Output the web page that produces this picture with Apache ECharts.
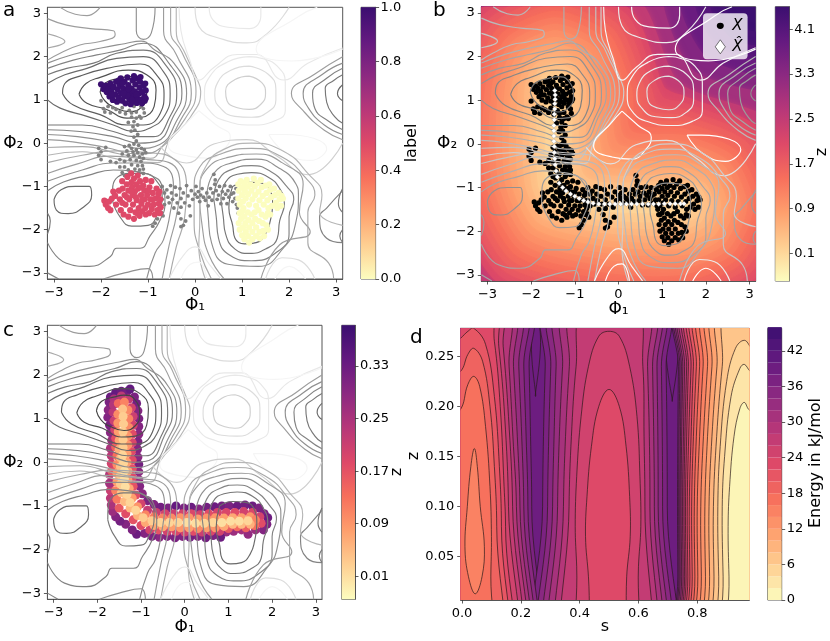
<!DOCTYPE html>
<html><head><meta charset="utf-8">
<script src="https://cdn.jsdelivr.net/npm/echarts@6/dist/echarts.min.js"></script>
<style>html,body{margin:0;padding:0;background:#fff}#c{width:830px;height:641px}</style></head>
<body><div id="c"></div>
<script>
const phiTicks=[-3,-2,-1,0,1,2,3];
const labelTicks=[0,0.2,0.4,0.6,0.8,1.0];
const zTicksB=[0.1,0.9,1.7,2.5,3.3,4.1];
const zTicksC=[0.01,0.09,0.17,0.25,0.33];
const energyTicks=[0,6,12,18,24,30,36,42];
const sTicks=[0,0.2,0.4,0.6,0.8];
const dzTicks=[0.05,0.10,0.15,0.20,0.25];
const energyLevels=[0,2,4,6,8,10,12,14,16,18,20,22,24,26,28,30,32,34,36,38,40,42,44,46];

const contours=[
{l:0,c:1,p:[[-2.02,1.18],[-1.9,1.4],[-1.6,1.5],[-1.39,1.54],[-1.15,1.45],[-1.03,1.1],[-1.12,.85],[-1.39,.73],[-1.7,.82],[-1.92,.98]]},
{l:1,c:1,p:[[-2.47,1.13],[-2.32,1.38],[-2.02,1.52],[-1.42,1.69],[-1.03,1.58],[-.83,1.23],[-.87,.85],[-1.13,.6],[-1.45,.58],[-1.88,.78],[-2.3,.92]]},
{l:2,c:1,p:[[-2.82,1.15],[-2.77,1.38],[-2.45,1.55],[-1.88,1.73],[-1.17,1.83],[-.82,1.58],[-.66,1.15],[-.74,.69],[-1.1,.42],[-1.45,.42],[-2.02,.66],[-2.59,.88]]},
{l:3,p:[[-3.14,1.38],[-2.77,1.58],[-2.3,1.73],[-1.67,1.96],[-1.1,2.0],[-.67,1.65],[-.53,1.15],[-.64,.65],[-.96,.35],[-1.31,.27],[-1.74,.42],[-2.3,.62],[-2.87,.81],[-3.14,1.0]]},
{l:3,p:[[3.14,1.35],[3.03,1.15],[3.14,.98]]},
{l:4,p:[[-3.14,1.58],[-2.73,1.73],[-2.16,1.85],[-1.67,2.08],[-1.1,2.15],[-.6,1.77],[-.39,1.15],[-.53,.62],[-.89,.15],[-1.31,.15],[-1.74,.27],[-2.4,.42],[-3.14,.42]]},
{l:4,p:[[3.14,1.58],[2.95,1.45],[2.77,1.27],[2.8,.95],[2.98,.6],[3.14,.46]]},
{l:5,p:[[-3.14,1.73],[-2.59,1.92],[-2.09,2.04],[-1.6,2.15],[-1.1,2.31],[-.53,1.81],[-.28,1.15],[-.46,.62],[-.82,.04],[-1.17,0],[-1.74,.15],[-2.45,.27],[-3.14,.31]]},
{l:5,p:[[3.14,1.73],[2.8,1.5],[2.5,1.15],[2.55,.8],[2.85,.5],[3.14,.31]]},
{l:6,p:[[-3.14,1.85],[-2.6,2.05],[-2.0,2.2],[-1.5,2.3],[-1.15,2.36],[-.85,2.15],[-.45,1.85],[-.18,1.15],[-.4,.5],[-.75,-.03],[-1.2,-.12],[-1.8,.03],[-2.5,.15],[-3.14,.2]]},
{l:6,p:[[3.14,1.85],[2.72,1.6],[2.3,1.15],[2.42,.8],[2.75,.42],[3.14,.2]]},
{l:6,p:[[-1.25,3.14],[-1.25,2.6],[-1.1,2.4],[-.93,2.55],[-.85,3.14]]},
{l:7,p:[[-.67,3.14],[-.67,2.6],[-.4,2.05],[-.08,1.15],[-.3,.55],[-.72,-.1],[-1.2,-.25],[-1.9,-.1],[-2.6,.03],[-3.14,.08]]},
{l:7,p:[[3.14,2.0],[2.55,1.6],[2.05,1.15],[2.3,.75],[2.75,.3],[3.14,.08]]},
{l:7,p:[[-3.14,2.88],[-2.73,2.73],[-2.23,2.65],[-1.74,2.6],[-1.7,2.5],[-2.02,2.35],[-2.45,2.27],[-2.87,2.08],[-3.14,1.92]]},
{l:7,p:[[-2.87,3.14],[-2.55,2.98],[-2.3,2.95],[-2.02,3.14]]},
{l:8,p:[[-3.14,2.53],[-2.77,2.35],[-3.14,2.2]]},
{l:8,p:[[-.52,3.14],[-.52,2.6],[-.28,2.1],[.02,1.2],[-.22,.55],[-.68,-.05],[-.95,-.35],[-1.6,-.25],[-2.4,-.08],[-3.14,-.1]]},
{l:9,p:[[-.4,3.14],[-.4,2.6],[-.2,2.05],[.05,1.46],[.12,1.2],[-.1,.6],[-.55,.05],[-.8,-.45],[-1.6,-.38],[-2.4,-.2],[-3.14,-.28]]},
{l:13,p:[[-.34,3.14],[-.3,2.6],[-.12,1.95],[.09,1.46],[.4,1.75],[.9,2.05],[1.3,2.05],[1.88,1.46],[2.4,1.85],[3.14,2.2]]},
{l:12,p:[[.0,3.14],[.08,2.7],[.6,2.4],[1.1,2.32],[1.55,2.55],[2.0,3.14]]},
{l:13,p:[[.3,3.14],[.38,2.85],[.7,2.68],[1.15,2.65],[1.4,2.95],[1.4,3.14]]},
{l:14,p:[[3.14,2.17],[2.06,1.9],[1.3,2.17],[2.2,2.93],[2.6,3.14]]},
{l:11,c:1,p:[[1.15,1.55],[.85,1.47],[.65,1.2],[.68,.98],[.9,.82],[1.15,.78],[1.4,.9],[1.5,1.15],[1.42,1.4]]},
{l:12,c:1,p:[[1.15,1.78],[.75,1.68],[.48,1.4],[.42,1.1],[.55,.8],[.85,.62],[1.2,.6],[1.55,.72],[1.72,1.0],[1.72,1.25],[1.55,1.6]]},
{l:13,c:1,p:[[1.15,2.0],[.7,1.88],[.32,1.55],[.2,1.1],[.35,.7],[.7,.5],[1.2,.42],[1.7,.52],[1.92,.75],[1.92,1.4],[1.75,1.78],[1.45,1.95]]},
{l:14,c:1,p:[[.08,.75],[-.15,.5],[-.57,-.05],[-.15,-.3],[.3,-.35],[.65,-.1],[.75,.15],[.45,.42]]},
{l:14,c:1,p:[[1.57,.2],[1.9,.2],[2.8,-.13],[2.45,-.4],[1.9,-.2]]},
{l:11,p:[[-.74,-.08],[-.18,-.46],[.4,-.02],[1.1,.08],[1.74,-.3],[2.4,-.73],[3.14,0]]},
{l:3,c:1,p:[[-3.0,-1.3],[-2.85,-1.08],[-2.55,-1.0],[-2.25,-1.0],[-2.2,-1.2],[-2.4,-1.5],[-2.7,-1.63],[-2.95,-1.55]]},
{l:4,c:1,p:[[-1.76,-1.32],[-1.6,-1.7],[-1.35,-1.92],[-1.0,-1.9],[-.8,-1.65],[-.7,-1.25],[-.8,-.9],[-1.1,-.7],[-1.4,-.7],[-1.75,-1.0]]},
{l:5,p:[[-3.14,-2.3],[-2.75,-2.77],[-2.25,-2.85],[-1.8,-2.62],[-1.67,-2.43],[-1.17,-2.43],[-.96,-2.15],[-.74,-1.77],[-.64,-1.38],[-.71,-.96],[-.89,-.77],[-1.31,-.65],[-1.74,-.62],[-2.3,-.75],[-2.8,-.9],[-3.14,-1.1]]},
{l:5,p:[[3.14,-1.1],[2.8,-1.5],[2.65,-1.7],[2.8,-2.2],[3.14,-2.3]]},
{l:6,p:[[-3.14,-.88],[-2.4,-.62],[-1.74,-.46],[-1.17,-.46],[-.67,-.54],[-.46,-1.0],[-.53,-1.62],[-.67,-2.23],[-.85,-2.54],[-1.03,-3.14]]},
{l:6,p:[[-1.95,-3.14],[-1.5,-3.0],[-1.0,-2.9],[-.9,-3.14]]},
{l:7,p:[[-3.14,-.7],[-2.5,-.48],[-1.8,-.3],[-1.0,-.38],[-.55,-.45],[-.32,-1.0],[-.4,-1.7],[-.55,-2.35],[-.7,-3.14]]},
{l:8,p:[[-3.14,-.45],[-2.4,-.28],[-1.7,-.18],[-1.0,-.22],[-.5,-.33],[-.18,-1.0],[-.22,-1.7],[-.4,-2.4],[-.55,-3.14]]},
{l:3,c:1,p:[[.8,-1.0],[1.1,-.9],[1.4,-.92],[1.6,-1.1],[1.65,-1.4],[1.6,-1.8],[1.5,-2.1],[1.3,-2.3],[1.05,-2.33],[.85,-2.2],[.8,-1.9],[.72,-1.5]]},
{l:4,c:1,p:[[.55,-1.3],[.65,-.9],[.9,-.72],[1.2,-.68],[1.55,-.78],[1.8,-1.05],[1.9,-1.4],[1.8,-1.8],[1.75,-2.2],[1.5,-2.45],[1.15,-2.55],[.85,-2.45],[.65,-2.1],[.6,-1.7]]},
{l:5,c:1,p:[[.4,-1.3],[.5,-.85],[.8,-.6],[1.2,-.52],[1.6,-.65],[1.95,-1.0],[2.1,-1.3],[2.0,-1.7],[2.0,-2.1],[1.7,-2.55],[1.2,-2.72],[.75,-2.6],[.5,-2.2],[.45,-1.7]]},
{l:6,c:1,p:[[.25,-1.2],[.4,-.7],[.8,-.45],[1.3,-.37],[1.75,-.55],[2.15,-.95],[2.2,-1.2],[2.13,-1.9],[1.9,-2.4],[1.35,-2.85],[.7,-2.8],[.35,-2.3],[.28,-1.7]]},
{l:7,p:[[.62,-3.14],[.3,-2.6],[.15,-1.9],[.1,-1.1],[.25,-.6],[.7,-.33],[1.3,-.25],[1.85,-.45],[2.3,-.95],[2.22,-1.6],[2.45,-2.05],[1.8,-2.35],[1.4,-3.14]]},
{l:8,p:[[.35,-3.14],[.1,-2.5],[-.02,-1.8],[-.02,-1.1],[.1,-.55],[.55,-.25],[1.2,-.12],[1.85,-.32],[2.35,-.8],[2.55,-1.2],[2.4,-1.6],[2.4,-2.3],[2.84,-2.77],[2.95,-3.14]]},
{l:9,p:[[.22,-3.14],[.08,-2.4],[.1,-1.8],[.1,-1.1],[.25,-.5],[.6,-.15],[1.2,0],[1.9,-.2],[2.4,-.7],[2.7,-1.2],[2.65,-1.6],[3.14,-1.9]]},
{l:13,p:[[-.55,-3.14],[-.25,-2.6],[0,-2.4],[.3,-2.8],[.55,-3.14]]},
{l:14,p:[[-.3,-3.14],[-.1,-2.8],[.08,-2.75],[.25,-3.14]]},
{l:12,p:[[1.5,-3.14],[1.85,-2.65],[2.2,-2.7],[2.55,-3.14]]},
{l:14,p:[[1.7,-3.14],[2,-2.85],[2.35,-3.14]]},
{l:4,p:[[3.14,-1.05],[3.05,-1.4],[3.14,-1.6]]},
{l:4,p:[[3.14,-2.0],[3.08,-2.15],[3.14,-2.3]]},
{l:4,p:[[-3.14,-1.62],[-3.08,-1.8],[-3.14,-2.1]]},
{l:5,p:[[-3.14,-3.0],[-2.9,-3.14]]}
];

const fieldLevels=[4.35,4.1,3.8,3.4,2.95,2.5,2.1,1.95,1.82,1.69,1.56,1.43,1.3,1.18,1.05,.93,.8,.68,.55,.42,.3,.15];
const fieldPolys=[
[[-5,-5],[-5,5],[2.44,5],[2.44,3.14],[2.75,2.72],[3.14,2.57],[5,2.57],[5,-5]],
[[-5,-5],[-5,5],[2.1,5],[2.1,3.14],[2.55,2.45],[3.14,2.25],[5,2.25],[5,-5]],
[[-5,-5],[-5,5],[1.76,5],[1.76,3.14],[2.25,2.25],[3.14,1.92],[5,1.92],[5,-5]],
[[-5,-5],[-5,5],[1.41,5],[1.41,3.14],[2,2],[3.14,1.58],[5,1.58],[5,-5]],
[[-5,-5],[-5,5],[1.04,5],[1.04,3.14],[1.7,1.7],[3.14,1.23],[5,1.23],[5,-5]],
[[-4.25,1.3],[-3.41,3.26],[-1.45,4.1],[.51,3.26],[1.4,1.4],[3.46,.56],[4.3,-1.4],[3.46,-3.36],[1.5,-4.2],[-.3,-4.15],[-2.98,-3.39],[-4.25,-.9]],
[[-3.95,1.3],[-3.2,3.05],[-1.45,3.8],[.3,3.05],[1.05,1.3],[1.2,1.2],[1.5,1.1],[3.25,.35],[4,-1.4],[3.25,-3.15],[1.5,-3.9],[-.3,-3.85],[-2.8,-3.15],[-3.95,-.9]],
[[-3.8,1.3],[-3.1,2.95],[-1.45,3.65],[.2,2.95],[.9,1.3],[1.05,1.05],[1.5,.95],[3.15,.25],[3.85,-1.4],[3.15,-3.05],[1.5,-3.75],[-.3,-3.7],[-2.71,-3.03],[-3.8,-.9]],
[[-3.65,1.3],[-2.99,2.84],[-1.45,3.5],[.09,2.84],[.75,1.3],[.9,.9],[1.5,.8],[3.04,.14],[3.7,-1.4],[3.04,-2.94],[1.5,-3.6],[-.3,-3.55],[-2.62,-2.91],[-3.65,-.9]],
[[-3.5,1.3],[-2.89,2.74],[-1.45,3.35],[-.02,2.74],[.6,1.3],[.75,.75],[1.5,.65],[2.94,.04],[3.55,-1.4],[2.94,-2.84],[1.5,-3.45],[-.3,-3.4],[-2.53,-2.79],[-3.5,-.9]],
[[-3.35,1.3],[-2.78,2.63],[-1.45,3.2],[-.12,2.63],[.45,1.3],[.6,.6],[1.5,.5],[2.83,-.07],[3.4,-1.4],[2.83,-2.73],[1.5,-3.3],[-.3,-3.25],[-2.44,-2.67],[-3.35,-.9]],
[[-3.2,1.3],[-2.68,2.53],[-1.45,3.05],[-.22,2.53],[.3,1.3],[.45,.45],[1.5,.35],[2.73,-.18],[3.25,-1.4],[2.73,-2.63],[1.5,-3.15],[-.3,-3.1],[-2.35,-2.55],[-3.2,-.9]],
[[-3.05,1.3],[-2.57,2.42],[-1.45,2.9],[-.33,2.42],[.15,1.3],[.3,.3],[1.5,.2],[2.62,-.28],[3.1,-1.4],[2.62,-2.52],[1.5,-3],[-.3,-2.95],[-2.26,-2.43],[-3.05,-.9]],
[[-2.9,1.3],[-2.47,2.32],[-1.45,2.75],[-.44,2.32],[0,1.3],[.15,.15],[1.5,.05],[2.52,-.39],[2.95,-1.4],[2.52,-2.42],[1.5,-2.85],[-.3,-2.8],[-2.17,-2.31],[-2.9,-.9]],
[[-2.75,1.3],[-2.36,2.21],[-1.45,2.6],[-.54,2.21],[-.15,1.3],[0,0],[1.5,-.1],[2.41,-.49],[2.8,-1.4],[2.41,-2.31],[1.5,-2.7],[-.3,-2.65],[-2.08,-2.19],[-2.75,-.9]],
[[-2.6,1.3],[-2.26,2.11],[-1.45,2.45],[-.65,2.11],[-.3,1.3],[-.15,-.15],[1.5,-.25],[2.31,-.6],[2.65,-1.4],[2.31,-2.21],[1.5,-2.55],[-.3,-2.5],[-1.99,-2.07],[-2.6,-.9]],
[[-2.45,1.3],[-2.15,2],[-1.45,2.3],[-.75,2],[-.45,1.3],[-.3,-.3],[1.5,-.4],[2.2,-.7],[2.5,-1.4],[2.2,-2.1],[1.5,-2.4],[-.3,-2.35],[-1.9,-1.95],[-2.45,-.9]],
[[-2.3,1.3],[-2.05,1.9],[-1.45,2.15],[-.86,1.9],[-.6,1.3],[-.45,-.45],[1.5,-.55],[2.1,-.8],[2.35,-1.4],[2.1,-2],[1.5,-2.25],[-.3,-2.2],[-1.81,-1.83],[-2.3,-.9]],
[[-2.15,1.3],[-1.94,1.79],[-1.45,2],[-.96,1.79],[-.75,1.3],[-.6,-.6],[1.5,-.7],[1.99,-.91],[2.2,-1.4],[1.99,-1.89],[1.5,-2.1],[-.3,-2.05],[-1.72,-1.71],[-2.15,-.9]],
[[-2,1.3],[-1.84,1.69],[-1.45,1.85],[-1.07,1.69],[-.9,1.3],[-.75,-.75],[1.5,-.85],[1.89,-1.02],[2.05,-1.4],[1.89,-1.79],[1.5,-1.95],[-.3,-1.9],[-1.63,-1.59],[-2,-.9]],
[[-1.85,1.3],[-1.73,1.58],[-1.45,1.7],[-1.17,1.58],[-1.05,1.3],[-.9,-.9],[1.5,-1],[1.78,-1.12],[1.9,-1.4],[1.78,-1.68],[1.5,-1.8],[-.3,-1.75],[-1.54,-1.47],[-1.85,-.9]],
[[-1.65,1.3],[-1.59,1.44],[-1.45,1.5],[-1.31,1.44],[-1.25,1.3],[-1.1,-1.1],[1.5,-1.2],[1.64,-1.26],[1.7,-1.4],[1.64,-1.54],[1.5,-1.6],[-.3,-1.55],[-1.42,-1.31],[-1.65,-.9]]
];

const darkPts=[[-2.0,1.36],[-1.95,1.25],[-1.9,1.33],[-1.88,1.18],[-1.84,1.27],[-1.82,1.08],[-1.8,1.38],[-1.78,1.2],[-1.75,1.0],[-1.73,1.3],[-1.7,1.12],[-1.68,1.42],[-1.66,.96],[-1.65,1.24],[-1.62,1.05],[-1.6,1.34],[-1.58,1.5],[-1.58,1.16],[-1.55,.98],[-1.53,1.27],[-1.5,1.42],[-1.5,1.08],[-1.48,.92],[-1.46,1.2],[-1.44,1.52],[-1.42,1.34],[-1.4,1.02],[-1.38,1.14],[-1.37,.9],[-1.35,1.26],[-1.33,1.45],[-1.32,.96],[-1.3,1.08],[-1.28,1.2],[-1.27,1.36],[-1.25,1.5],[-1.24,.93],[-1.22,1.02],[-1.2,1.14],[-1.18,1.28],[-1.17,1.42],[-1.15,1.0],[-1.13,.92],[-1.12,1.18],[-1.1,1.33],[-1.08,1.08],[-1.07,.98],[-1.05,1.22],[-1.05,1.03],[-1.16,1.53],[-1.06,1.38],[-1.3,1.55],[-1.62,1.45],[-1.77,1.12],[-1.55,1.38],[-1.44,1.1],[-1.34,1.0],[-1.42,1.25],[-1.25,1.12],[-1.52,1.15]];
const redPts=[[-1.93,-1.33],[-1.9,-1.42],[-1.85,-1.5],[-1.83,-1.35],[-1.8,-1.55],[-1.77,-1.28],[-1.74,-1.12],[-1.7,-1.22],[-1.68,-1.42],[-1.62,-1.1],[-1.6,-1.3],[-1.58,-1.55],[-1.55,-.88],[-1.54,-1.05],[-1.52,-1.65],[-1.5,-1.2],[-1.48,-1.42],[-1.45,-.95],[-1.44,-.78],[-1.42,-1.1],[-1.42,-1.7],[-1.4,-1.3],[-1.38,-1.55],[-1.36,-.7],[-1.35,-.9],[-1.34,-1.02],[-1.33,-1.2],[-1.32,-1.42],[-1.3,-1.75],[-1.3,-.82],[-1.28,-1.12],[-1.27,-1.6],[-1.25,-.95],[-1.24,-1.32],[-1.22,-.75],[-1.21,-1.05],[-1.2,-1.5],[-1.18,-1.68],[-1.17,-.88],[-1.15,-1.2],[-1.14,-1.4],[-1.12,-1.58],[-1.1,-.98],[-1.08,-1.1],[-1.07,-1.3],[-1.06,-1.5],[-1.05,-.85],[-1.02,-1.2],[-1.0,-1.42],[-.98,-1.62],[-.97,-1.02],[-.95,-1.3],[-.93,-.88],[-.92,-1.52],[-.9,-1.15],[-.88,-1.42],[-.86,-1.65],[-.84,-1.28],[-.82,-1.05],[-.8,-1.55],[-.78,-1.18],[-.77,-1.4],[-.75,-1.62],[-.74,-1.3],[-.73,-1.48],[-.76,-1.12],[-1.26,-1.25],[-1.16,-1.02],[-1.35,-1.12],[-1.45,-1.25],[-1.05,-1.65],[-1.22,-1.63],[-.9,-1.3],[-1.0,-1.1],[-1.55,-1.38],[-1.12,-1.3]];
const creamPts=[[.92,-.95],[.93,-1.1],[.92,-1.28],[.95,-1.42],[.97,-.88],[1.0,-1.02],[1.0,-1.2],[1.02,-1.35],[1.03,-1.5],[1.05,-.92],[1.06,-1.1],[1.08,-1.28],[1.1,-.85],[1.12,-1.0],[1.13,-1.18],[1.15,-1.42],[1.18,-.95],[1.2,-1.1],[1.22,-1.3],[1.25,-.82],[1.27,-1.0],[1.28,-1.2],[1.3,-1.45],[1.33,-.92],[1.35,-1.12],[1.37,-1.32],[1.4,-.85],[1.42,-1.02],[1.44,-1.22],[1.46,-1.42],[1.5,-.98],[1.52,-1.15],[1.54,-1.32],[1.56,-1.5],[1.58,-.95],[1.6,-1.08],[1.62,-1.25],[1.64,-1.45],[1.68,-1.05],[1.7,-1.2],[1.72,-1.38],[1.75,-1.5],[1.78,-1.15],[1.8,-1.3],[1.84,-1.22],[1.87,-1.28],[1.83,-1.45],[.95,-1.62],[.93,-1.85],[.95,-2.0],[.98,-1.75],[1.0,-1.58],[1.02,-1.95],[1.0,-2.13],[1.05,-1.7],[1.07,-1.85],[1.08,-2.05],[1.05,-2.22],[1.12,-1.6],[1.14,-1.78],[1.15,-1.95],[1.13,-2.15],[1.15,-2.3],[1.2,-1.65],[1.22,-1.85],[1.22,-2.05],[1.22,-2.22],[1.27,-1.6],[1.28,-1.75],[1.3,-1.95],[1.3,-2.15],[1.35,-1.55],[1.36,-1.8],[1.37,-2.05],[1.38,-2.2],[1.42,-1.65],[1.44,-1.85],[1.45,-2.03],[1.47,-2.15],[1.5,-1.7],[1.52,-1.9],[1.55,-1.62],[1.55,-2.0],[1.6,-1.65]];
const grayPts=[[-2.0,.98],[-1.95,.8],[-1.92,.72],[-1.85,.85],[-1.8,.7],[-1.75,.82],[-1.68,.78],[-1.6,.72],[-1.55,.82],[-1.48,.68],[-1.4,.76],[-1.35,.7],[-1.3,.85],[-1.25,.72],[-1.18,.62],[-1.1,.8],[-1.08,.7],[-1.15,.85],[-1.25,.58],[-1.3,.5],[-1.32,.38],[-1.35,.6],[-1.42,.48],[-1.22,.42],[-1.28,.3],[-1.15,.58],[-1.36,.28],[-1.22,.2],[-1.3,.14],[-1.25,.05],[-1.3,-.02],[-1.4,-.05],[-1.5,-.08],[-1.2,-.05],[-1.35,-.12],[-1.25,-.15],[-1.14,-.12],[-1.08,-.15],[-1.45,-.18],[-1.32,-.2],[-1.22,-.22],[-1.12,-.25],[-1.05,-.22],[-1.55,-.25],[-1.42,-.28],[-1.3,-.28],[-1.18,-.32],[-1.1,-.35],[-2.05,-.12],[-2.0,-.2],[-2.05,-.28],[-2.0,-.38],[-1.9,-.1],[-1.8,-.42],[-1.6,-.38],[-1.68,-.45],[-1.5,-.42],[-1.38,-.38],[-1.25,-.4],[-1.15,-.42],[-1.6,-.55],[-1.5,-.55],[-1.35,-.5],[-1.22,-.52],[-1.12,-.52],[-1.55,-.68],[-1.42,-.62],[-1.28,-.6],[-1.18,-.62],[-1.1,-.6],[-1.5,-.75],[-1.2,-.7],[-1.1,-.7],[-.7,-1.0],[-.65,-1.15],[-.7,-1.3],[-.65,-1.42],[-.6,-1.08],[-.58,-1.25],[-.55,-1.38],[-.52,-.98],[-.5,-1.15],[-.48,-1.3],[-.45,-1.5],[-.42,-1.02],[-.4,-1.2],[-.38,-1.38],[-.35,-1.62],[-.32,-1.05],[-.3,-1.28],[-.3,-1.48],[-.3,-1.75],[-.25,-1.15],[-.22,-1.38],[-.25,-1.9],[-.3,-1.93],[-.2,-1.8],[-.18,-.98],[-.15,-1.22],[-.12,-1.45],[-.1,-1.68],[-.08,-1.1],[-.05,-1.3],[.0,-1.18],[.02,-1.0],[.05,-1.25],[.07,-1.12],[.1,-1.35],[.12,-1.2],[.15,-1.05],[.18,-1.25],[.22,-1.32],[.25,-1.15],[.28,-1.45],[.3,-1.25],[.33,-1.05],[.36,-1.32],[.38,-1.15],[.4,-.72],[.42,-.95],[.43,-.85],[.45,-1.1],[.47,-1.3],[.5,-1.2],[.52,-1.0],[.55,-1.4],[.58,-1.12],[.6,-1.28],[.63,-.98],[.65,-1.18],[.68,-1.4],[.7,-1.1],[.72,-1.25],[.75,-1.0],[.77,-1.18],[.8,-1.35],[.82,-1.15],[.85,-1.28],[.87,-1.05],[.9,-1.5],[.88,-1.42],[.92,-1.62],[-.85,-1.85],[-.9,-1.92],[-.8,-1.75],[-.72,-1.6],[-.68,-1.68]];
const hatPts=[[-1.46,1.22],[-1.45,1.12],[-1.45,1.02],[-1.46,.92],[-1.46,.8],[-1.47,.68],[-1.47,.55],[-1.48,.42],[-1.48,.3],[-1.48,.18],[-1.48,.06],[-1.47,-.06],[-1.47,-.2],[-1.46,-.34],[-1.45,-.48],[-1.43,-.62],[-1.4,-.76],[-1.36,-.9],[-1.28,-1.0],[-1.2,-1.08],[-1.1,-1.15],[-1.0,-1.2],[-.9,-1.25],[-.8,-1.3],[-.7,-1.33],[-.58,-1.36],[-.45,-1.38],[-.32,-1.38],[-.2,-1.38],[-.08,-1.38],[.05,-1.38],[.18,-1.38],[.3,-1.38],[.42,-1.38],[.55,-1.38],[.68,-1.38],[.8,-1.38],[.92,-1.38],[1.05,-1.37],[1.18,-1.37],[1.3,-1.37],[1.42,-1.37],[1.5,-1.37]];

const tubeOuter=[[-1.7,1.5,.33],[-1.58,1.6,.34],[-1.45,1.63,.33],[-1.32,1.62,.32],[-1.25,1.68,.34],[-1.15,1.5,.31],[-1.1,1.35,.32],[-1.07,1.18,.3],[-1.05,1.0,.31],[-1.05,.82,.3],[-1.05,.65,.29],[-1.07,.47,.31],[-1.08,.3,.3],[-1.07,.12,.29],[-1.05,-.05,.32],[-1.05,-.22,.29],[-1.05,-.4,.28],[-1.03,-.55,.3],[-.97,-.72,.29],[-.85,-.88,.31],[-.7,-.97,.3],[-.55,-1.03,.32],[-.38,-1.05,.31],[-.2,-1.0,.34],[-.02,-1.05,.31],[.15,-1.03,.33],[.32,-1.07,.3],[.5,-1.03,.32],[.68,-1.02,.33],[.85,-1.0,.32],[1.02,-1.0,.31],[1.2,-1.0,.33],[1.38,-.98,.32],[1.55,-1.0,.33],[1.7,-1.05,.31],[1.82,-1.18,.31],[1.9,-1.27,.33],[1.88,-1.42,.31],[1.8,-1.55,.3],[1.62,-1.55,.27],[1.45,-1.65,.28],[1.3,-1.55,.26],[1.12,-1.58,.27],[.95,-1.6,.27],[.82,-1.72,.33],[.65,-1.68,.31],[.48,-1.73,.32],[.3,-1.7,.3],[.12,-1.72,.32],[-.05,-1.7,.3],[-.22,-1.73,.31],[-.4,-1.7,.3],[-.58,-1.72,.29],[-.75,-1.7,.31],[-.92,-1.63,.3],[-1.1,-1.65,.33],[-1.2,-1.55,.31],[-1.35,-1.42,.3],[-1.48,-1.35,.32],[-1.58,-1.25,.3],[-1.65,-1.13,.27],[-1.68,-.98,.25],[-1.7,-.82,.23],[-1.7,-.65,.21],[-1.68,-.47,.18],[-1.72,-.48,.26],[-1.72,-.28,.24],[-1.67,-.2,.16],[-1.68,-.03,.2],[-1.68,.15,.23],[-1.7,.32,.25],[-1.67,.5,.27],[-1.7,.68,.29],[-1.72,.85,.31],[-1.76,1.03,.3],[-1.75,1.2,.29],[-1.73,1.38,.31]];
const tubeMid=[[-1.62,1.45,.25],[-1.45,1.52,.23],[-1.28,1.45,.22],[-1.22,1.25,.2],[-1.18,1.05,.21],[-1.18,.85,.2],[-1.2,.65,.18],[-1.2,.45,.19],[-1.22,.25,.18],[-1.2,.05,.18],[-1.2,-.15,.17],[-1.2,-.35,.18],[-1.18,-.55,.17],[-1.12,-.75,.18],[-1.0,-.95,.2],[-.85,-1.1,.22],[-.65,-1.15,.21],[-.45,-1.18,.2],[-.25,-1.18,.21],[-.05,-1.18,.2],[.15,-1.18,.19],[.35,-1.2,.2],[.55,-1.18,.18],[.75,-1.15,.2],[.95,-1.15,.19],[1.15,-1.15,.18],[1.35,-1.13,.2],[1.55,-1.15,.19],[1.72,-1.25,.2],[1.75,-1.4,.18],[1.6,-1.45,.13],[1.4,-1.5,.15],[1.2,-1.48,.14],[1.0,-1.52,.16],[.8,-1.58,.2],[.6,-1.58,.19],[.4,-1.6,.21],[.2,-1.58,.18],[0,-1.6,.2],[-.2,-1.58,.19],[-.4,-1.58,.2],[-.6,-1.55,.17],[-.8,-1.55,.2],[-1.0,-1.45,.18],[-1.18,-1.32,.17],[-1.35,-1.18,.18],[-1.5,-1.05,.16],[-1.55,-.85,.12],[-1.58,-.65,.11],[-1.55,-.45,.08],[-1.55,-.25,.08],[-1.55,-.05,.1],[-1.55,.15,.13],[-1.58,.35,.15],[-1.58,.55,.18],[-1.6,.75,.2],[-1.62,.95,.21],[-1.64,1.15,.23],[-1.63,1.32,.24]];
const tubeInner=[[-1.52,1.35,.14],[-1.38,1.38,.11],[-1.3,1.2,.1],[-1.28,1.0,.11],[-1.28,.8,.1],[-1.3,.6,.09],[-1.3,.4,.09],[-1.32,.2,.08],[-1.32,0,.08],[-1.3,-.2,.07],[-1.3,-.4,.08],[-1.27,-.6,.07],[-1.2,-.82,.08],[-1.08,-1.02,.09],[-.9,-1.2,.11],[-.7,-1.25,.12],[-.5,-1.28,.11],[-.3,-1.28,.1],[-.1,-1.27,.09],[.1,-1.27,.09],[.3,-1.3,.08],[.5,-1.28,.09],[.7,-1.27,.09],[.9,-1.28,.08],[1.1,-1.27,.07],[1.3,-1.27,.08],[1.5,-1.25,.09],[1.62,-1.32,.11],[1.5,-1.42,.06],[1.3,-1.42,.05],[1.1,-1.42,.05],[.9,-1.47,.07],[.7,-1.5,.09],[.5,-1.5,.08],[.3,-1.52,.1],[.1,-1.5,.08],[-.1,-1.5,.09],[-.3,-1.48,.08],[-.5,-1.48,.07],[-.7,-1.45,.07],[-.9,-1.38,.07],[-1.08,-1.22,.06],[-1.25,-1.05,.05],[-1.38,-.9,.05],[-1.45,-.7,.04],[-1.47,-.5,.03],[-1.47,-.3,.03],[-1.47,-.1,.04],[-1.47,.1,.05],[-1.5,.3,.06],[-1.5,.5,.07],[-1.52,.7,.08],[-1.53,.9,.09],[-1.53,1.1,.1]];
const tubeCore=[[-1.42,1.22,.04],[-1.41,1.05,.03],[-1.4,.88,.03],[-1.41,.7,.03],[-1.41,.52,.03],[-1.41,.34,.03],[-1.42,.16,.02],[-1.4,-.02,.02],[-1.38,-.2,.01],[-1.38,-.38,.01],[-1.36,-.56,.01],[-1.32,-.74,.02],[-1.25,-.92,.02],[-1.12,-1.1,.02],[-.95,-1.27,.03],[-.75,-1.34,.03],[-.55,-1.38,.02],[-.35,-1.38,.02],[-.15,-1.38,.02],[.05,-1.38,.01],[.25,-1.4,.01],[.45,-1.4,.02],[.65,-1.38,.02],[.85,-1.38,.01],[1.05,-1.35,.01],[1.25,-1.35,.01],[1.45,-1.34,.02]];

const energyContours=[
[44,[[-.1,-.1],[-.1,.3],[.245,.3],[.25,.272],[.258,.3],[.71,.3],[.715,.27],[.72,.3],[1.2,.3],[1.2,-.1]]],
[42,[[-.1,-.1],[-.1,.3],[.24,.3],[.25,.25],[.27,.3],[.705,.3],[.715,.243],[.725,.3],[1.2,.3],[1.2,-.1]]],
[40,[[-.1,-.1],[-.1,.3],[.235,.3],[.25,.21],[.275,.3],[.7,.3],[.715,.205],[.73,.3],[1.2,.3],[1.2,-.1],[.725,-.1],[.715,.028],[.705,-.1],[.262,-.1],[.25,.022],[.24,-.1]]],
[38,[[-.2,-.1],[.233,-.1],[.237,.1],[.233,.17],[.228,.24],[.222,.3],[-.2,.3]]],
[38,[[.27,-.1],[.274,.1],[.277,.17],[.283,.24],[.29,.3],[.69,.3],[.694,.24],[.697,.17],[.698,.1],[.696,-.1]]],
[38,[[.735,-.1],[.734,.03],[.733,.1],[.734,.17],[.736,.24],[.738,.3],[1.2,.3],[1.2,-.1]]],
[36,[[-.2,-.1],[.222,-.1],[.224,.1],[.218,.17],[.21,.24],[.205,.3],[-.2,.3]]],
[36,[[.288,-.1],[.291,.1],[.295,.17],[.302,.24],[.31,.3],[.675,.3],[.678,.24],[.681,.17],[.682,.1],[.68,-.1]]],
[36,[[.74,-.1],[.738,.03],[.737,.1],[.738,.17],[.741,.24],[.743,.3],[1.2,.3],[1.2,-.1]]],
[34,[[-.2,-.1],[.21,-.1],[.21,.1],[.203,.17],[.193,.24],[.185,.3],[-.2,.3]]],
[34,[[.305,-.1],[.308,.1],[.313,.17],[.32,.24],[.33,.3],[.66,.3],[.663,.24],[.666,.17],[.667,.1],[.665,-.1]]],
[34,[[.745,-.1],[.742,.03],[.741,.1],[.743,.17],[.746,.24],[.749,.3],[1.2,.3],[1.2,-.1]]],
[32,[[-.2,-.1],[.198,-.1],[.197,.1],[.188,.17],[.175,.24],[.165,.3],[-.2,.3]]],
[32,[[.322,-.1],[.325,.1],[.331,.17],[.342,.24],[.355,.3],[.645,.3],[.648,.24],[.652,.17],[.654,.1],[.65,-.1]]],
[32,[[.75,-.1],[.747,.03],[.745,.1],[.747,.17],[.751,.24],[.755,.3],[1.2,.3],[1.2,-.1]]],
[30,[[-.2,-.1],[.186,-.1],[.185,.1],[.173,.17],[.16,.24],[.145,.3],[-.2,.3]]],
[30,[[.342,-.1],[.345,.1],[.352,.17],[.365,.24],[.38,.3],[.625,.3],[.631,.24],[.637,.17],[.639,.1],[.635,-.1]]],
[30,[[.755,-.1],[.752,.03],[.75,.1],[.753,.17],[.757,.24],[.762,.3],[1.2,.3],[1.2,-.1]]],
[28,[[-.2,-.1],[.173,-.1],[.172,.1],[.158,.19],[.14,.26],[.125,.3],[-.2,.3]]],
[28,[[.36,-.1],[.364,.1],[.372,.17],[.388,.24],[.415,.3],[.59,.3],[.615,.24],[.619,.17],[.622,.1],[.618,-.1]]],
[28,[[.76,-.1],[.757,.03],[.755,.1],[.758,.17],[.764,.24],[.77,.3],[1.2,.3],[1.2,-.1]]],
[26,[[-.2,-.1],[.16,-.1],[.158,.1],[.145,.19],[.125,.26],[.105,.3],[-.2,.3]]],
[26,[[.405,-.1],[.39,.04],[.385,.08],[.39,.13],[.405,.19],[.43,.24],[.465,.27],[.5,.275],[.535,.27],[.57,.24],[.595,.19],[.605,.13],[.608,.08],[.6,.04],[.585,-.1]]],
[26,[[.766,-.1],[.762,.03],[.76,.1],[.764,.17],[.77,.24],[.778,.3],[1.2,.3],[1.2,-.1]]],
[24,[[-.2,-.1],[.147,-.1],[.148,.08],[.143,.12],[.13,.2],[.11,.265],[.085,.3],[-.2,.3]]],
[24,[[.455,-.1],[.43,.03],[.42,.07],[.425,.11],[.44,.16],[.465,.2],[.5,.217],[.535,.2],[.558,.16],[.57,.11],[.572,.07],[.56,.03],[.545,-.1]]],
[24,[[.772,-.1],[.768,.03],[.766,.1],[.771,.17],[.779,.24],[.787,.3],[1.2,.3],[1.2,-.1]]],
[22,[[-.2,-.1],[-.2,.22],[-.005,.268],[.02,.275],[.04,.278],[.08,.262],[.11,.21],[.127,.14],[.134,.08],[.132,-.1]]],
[22,[[.78,-.1],[.775,.03],[.773,.1],[.779,.17],[.787,.24],[.797,.3],[1.2,.3],[1.2,-.1]]],
[20,[[-.2,-.1],[-.2,.18],[-.005,.235],[.02,.252],[.04,.258],[.07,.245],[.095,.2],[.11,.14],[.118,.08],[.115,-.1]]],
[20,[[.788,-.1],[.783,.03],[.781,.1],[.787,.17],[.797,.24],[.808,.3],[1.2,.3],[1.2,-.1]]],
[18,[[-.2,-.1],[-.2,.14],[-.01,.195],[.02,.222],[.04,.23],[.06,.22],[.08,.18],[.095,.12],[.1,.07],[.098,.03],[.095,-.1]]],
[18,[[.797,-.1],[.792,.03],[.79,.1],[.797,.17],[.808,.24],[.82,.3],[1.2,.3],[1.2,-.1]]],
[16,[[.045,.013],[.022,.03],[.01,.06],[.018,.1],[.03,.14],[.042,.158],[.052,.14],[.062,.1],[.076,.06],[.068,.03]]],
[16,[[.807,-.1],[.802,.03],[.8,.1],[.808,.17],[.82,.24],[.834,.3],[1.2,.3],[1.2,-.1]]],
[14,[[.82,-.1],[.814,.03],[.812,.1],[.821,.17],[.835,.24],[.849,.3],[1.2,.3],[1.2,-.1]]],
[12,[[.835,-.1],[.828,.03],[.826,.1],[.835,.17],[.85,.24],[.866,.3],[1.2,.3],[1.2,-.1]]],
[10,[[.85,-.1],[.842,.03],[.84,.1],[.85,.17],[.867,.24],[.885,.3],[1.2,.3],[1.2,-.1]]],
[8,[[.866,-.1],[.857,.03],[.855,.1],[.866,.17],[.885,.24],[.91,.3],[1.2,.3],[1.2,-.1]]],
[6,[[.885,-.1],[.873,.03],[.87,.1],[.878,.16],[.9,.225],[.93,.258],[.96,.266],[.985,.258],[1.2,.2],[1.2,-.1]]],
[4,[[.9,-.1],[.888,.03],[.885,.1],[.893,.15],[.915,.21],[.945,.238],[.96,.242],[.98,.235],[1.2,.18],[1.2,-.1]]],
[2,[[.92,-.1],[.908,.03],[.905,.08],[.91,.12],[.925,.17],[.945,.198],[.96,.204],[.975,.197],[1.2,.13],[1.2,-.1]]]
];

const mapStops=['#fcfdbf','#fecf92','#fe9f6d','#f76f5c','#de4968','#b73779','#8c2981','#641a80','#3b0f70'];
function hex(c){return [1,3,5].map(i=>parseInt(c.substr(i,2),16));}
function mag(t){t=Math.max(0,Math.min(1,t));const f=t*8,i=Math.min(7,Math.floor(f)),a=hex(mapStops[i]),b=hex(mapStops[i+1]),u=f-i;
 return 'rgb('+a.map((v,k)=>Math.round(v+(b[k]-v)*u)).join(',')+')';}
function grad(){return new echarts.graphic.LinearGradient(0,1,0,0,mapStops.map((c,i)=>({offset:i/8,color:c})));}
const ZB=[-0.39,4.5],ZC=[-0.025,0.392];
const TXT='#000',FF='DejaVu Sans',AX='#555';
const fmt=v=>String(v).replace('-','\u2212');
const grids=[
 {left:47.4,top:7.3,width:295.3,height:271.7},
 {left:481.3,top:6.7,width:274.4,height:274.3},
 {left:47.4,top:325.3,width:274.6,height:274},
 {left:460.7,top:328.3,width:288.6,height:271.7},
 {left:361,top:7.3,width:14.6,height:271.7},
 {left:775.3,top:6.7,width:14,height:274.3},
 {left:341.7,top:325.3,width:13.3,height:274},
 {left:767.7,top:328.3,width:14,height:271.7}
].map(g=>Object.assign(g,{show:true,borderColor:AX,borderWidth:1,backgroundColor:'#fff',containLabel:false}));
function axis(o){return Object.assign({type:'value',scale:false,nameMoveOverlap:false,splitLine:{show:false},nameTextStyle:{fontFamily:FF,fontSize:16,color:TXT},
 axisLine:{show:true,onZero:false,lineStyle:{color:AX,width:1}},axisTick:{show:true,length:3.5,lineStyle:{color:'#333',width:.8},customValues:o.ticks},
 axisLabel:{show:true,fontFamily:FF,fontSize:13,color:TXT,margin:o.m||5,customValues:o.ticks,formatter:o.f||fmt}},o);}
const P=3.1416;
const phiName={fontFamily:FF,fontSize:17,color:TXT};
const xAxes=[0,1,2].map(i=>axis({gridIndex:i,m:7,min:-P,max:P,ticks:phiTicks,name:'\u03A6\u2081',nameTextStyle:phiName,nameLocation:'middle',nameGap:i==0?18:20}));
const yAxes=[0,1,2].map(i=>axis({gridIndex:i,m:6.5,min:-P,max:P,ticks:phiTicks,name:'\u03A6\u2082',nameTextStyle:phiName,nameLocation:'middle',nameRotate:0,nameGap:24}));
xAxes.push(axis({gridIndex:3,m:7,min:-0.0045,max:0.977,ticks:sTicks,name:'s',nameLocation:'middle',nameGap:19,f:v=>v.toFixed(1)}));
yAxes.push(axis({gridIndex:3,m:6.5,min:0.0068,max:0.278,ticks:dzTicks,f:v=>v.toFixed(2)}));
for(let g=4;g<8;g++) xAxes.push({type:'value',gridIndex:g,min:0,max:1,show:false,splitLine:{show:false}});
yAxes.push(axis({gridIndex:4,position:'right',min:0,max:1,ticks:labelTicks,f:v=>v.toFixed(1)}));
yAxes.push(axis({gridIndex:5,position:'right',min:ZB[0],max:ZB[1],ticks:zTicksB,f:v=>v.toFixed(1)}));
yAxes.push(axis({gridIndex:6,position:'right',min:ZC[0],max:ZC[1],ticks:zTicksC,f:v=>v.toFixed(2)}));
yAxes.push(axis({gridIndex:7,position:'right',min:0,max:45.8,ticks:energyTicks,f:String}));

function clip(p){const c=p.coordSys;return {type:'rect',shape:{x:c.x,y:c.y,width:c.width,height:c.height}};}
function polySeries(g,list,z,styleOf){return {type:'custom',xAxisIndex:g,yAxisIndex:g,silent:true,z:z,coordinateSystem:'cartesian2d',
 data:list.map((d,i)=>[i]),renderItem:(p,api)=>{const d=list[p.dataIndex];const s=styleOf(d,p.dataIndex);
  return {type:'polygon',shape:{points:s.pts.map(q=>api.coord(q)),smooth:s.smooth},style:s.style,clipPath:clip(p)};}};}
function barSeries(g,lo,hi){return {type:'custom',xAxisIndex:g,yAxisIndex:g,silent:true,z:1,data:[[0,lo,hi]],
 renderItem:(p,api)=>{const a=api.coord([0,lo]),b=api.coord([1,hi]);
  return {type:'rect',shape:{x:a[0],y:b[1],width:b[0]-a[0],height:a[1]-b[1]},style:{fill:grad()}};}};}
function contourSeries(g,colorOf,z,w){return contours.map(c=>({type:'line',xAxisIndex:g,yAxisIndex:g,z:z,silent:true,symbol:'none',showSymbol:false,smooth:.5,
 data:c.c?c.p.concat([c.p[0]]):c.p,lineStyle:{color:colorOf(c.l),width:w}}));}
const gr=(a,b,l)=>{const v=Math.round(a+(b-a)*l/14);return 'rgb('+v+','+v+','+v+')';};
const scat=(g,name,data,size,color,z,extra)=>Object.assign({type:'scatter',name,xAxisIndex:g,yAxisIndex:g,data,symbolSize:size,itemStyle:{color,opacity:1},z,silent:true},extra||{});
const fz=z=>mag((z-ZB[0])/(ZB[1]-ZB[0]));
const series=[];
// panel a
series.push(...contourSeries(0,l=>gr(68,245,l),2,1.15));
series.push(scat(0,'unlabelled',grayPts,3.8,'#808080',3));
series.push(scat(0,'label 1',darkPts,6.2,mag(1),4));
series.push(scat(0,'label 0.5',redPts,6.2,mag(.5),4));
series.push(scat(0,'label 0',creamPts,6.2,mag(0),4));
// panel b
series.push({type:'custom',xAxisIndex:1,yAxisIndex:1,silent:true,z:1,data:[[0]],renderItem:(p,api)=>{const c=p.coordSys;return {type:'rect',shape:{x:c.x,y:c.y,width:c.width,height:c.height},style:{fill:fz(4.5)}};}});
series.push(polySeries(1,fieldPolys,1,(d,i)=>{const f=fz(fieldLevels[i]);return {pts:d,smooth:.25,style:{fill:f,shadowBlur:6,shadowColor:f}};}));
const blackAll=grayPts.concat(darkPts,redPts,creamPts);
series.push(scat(1,'X',blackAll,5.2,'#000',3));
series.push(...contourSeries(1,l=>gr(115,255,l),4,1.15));
series.push(scat(1,'X\u0302',hatPts,5,'#fff',5,{symbol:'diamond',itemStyle:{color:'#fff',opacity:1,borderColor:'#777',borderWidth:.3}}));
// panel c
series.push(...contourSeries(2,l=>gr(68,245,l),4,1.15));
[tubeOuter,tubeMid,tubeInner,tubeCore].forEach((t,i)=>series.push({type:'scatter',xAxisIndex:2,yAxisIndex:2,silent:true,z:3,data:t,symbolSize:9,
 itemStyle:{opacity:1,color:p=>mag((p.value[2]-ZC[0])/(ZC[1]-ZC[0]))}}));
// panel d
series.push({type:'custom',xAxisIndex:3,yAxisIndex:3,silent:true,z:1,data:[[0]],renderItem:(p,api)=>{const c=p.coordSys;return {type:'rect',shape:{x:c.x,y:c.y,width:c.width,height:c.height},style:{fill:mag(45/46)}};}});
series.push(polySeries(3,energyContours,2,d=>({pts:d[1],smooth:.4,style:{fill:mag((d[0]-1)/46),stroke:'#2a1a1a',lineWidth:.7}})));
// colour bars
series.push(barSeries(4,0,1));
series.push(barSeries(5,ZB[0],ZB[1]));
series.push(barSeries(6,ZC[0],ZC[1]));
series.push({type:'custom',xAxisIndex:7,yAxisIndex:7,silent:true,z:1,data:energyLevels.slice(1).map((v,i)=>[i]),renderItem:(p,api)=>{const i=p.dataIndex,lo=energyLevels[i],hi=energyLevels[i+1];
 const a=api.coord([0,lo]),b=api.coord([1,hi]);return {type:'rect',shape:{x:a[0],y:b[1],width:b[0]-a[0],height:a[1]-b[1]},style:{fill:mag((lo+1)/46)}};}});

const chart=echarts.init(document.getElementById('c'),null,{renderer:'canvas'});
const letter=(t,l,tp)=>({text:t,left:l,top:tp,textStyle:{fontFamily:FF,fontSize:20,fontWeight:'normal',color:TXT}});
const vtext=(t,x,y)=>({type:'text',x:x,y:y,rotation:Math.PI/2,silent:true,style:{text:t,fontFamily:FF,fontSize:16,fill:TXT,textAlign:'center',textVerticalAlign:'middle'}});
chart.setOption({animation:false,backgroundColor:'#fff',
 title:[letter('a',-2,-4),letter('b',428,-4),letter('c',-2,316),letter('d',405,323)],
 graphic:[vtext('label',412,143),vtext('z',822,152),vtext('z',397,472),vtext('z',414,456),vtext('Energy in kJ/mol',816,463)],
 grid:grids,xAxis:xAxes,yAxis:yAxes,series:series,
 legend:{left:703,top:13.3,orient:'vertical',padding:[5,5,5,10],itemWidth:14,itemHeight:16,itemGap:6,selectedMode:false,backgroundColor:'rgba(255,255,255,.78)',borderRadius:4,
  textStyle:{fontFamily:FF,fontSize:15,fontStyle:'italic',color:'#000',padding:[0,0,0,0]},
  data:[{name:'X',icon:'path://M0 0M100 100M25 50a25 22 0 1 0 50 0a25 22 0 1 0 -50 0z',itemStyle:{color:'#000'}},
        {name:'X\u0302',icon:'path://M0 0M100 100M50 0L86 50L50 100L14 50Z',itemStyle:{color:'#fff',borderColor:'#222',borderWidth:.6}}]}
});
</script></body></html>
